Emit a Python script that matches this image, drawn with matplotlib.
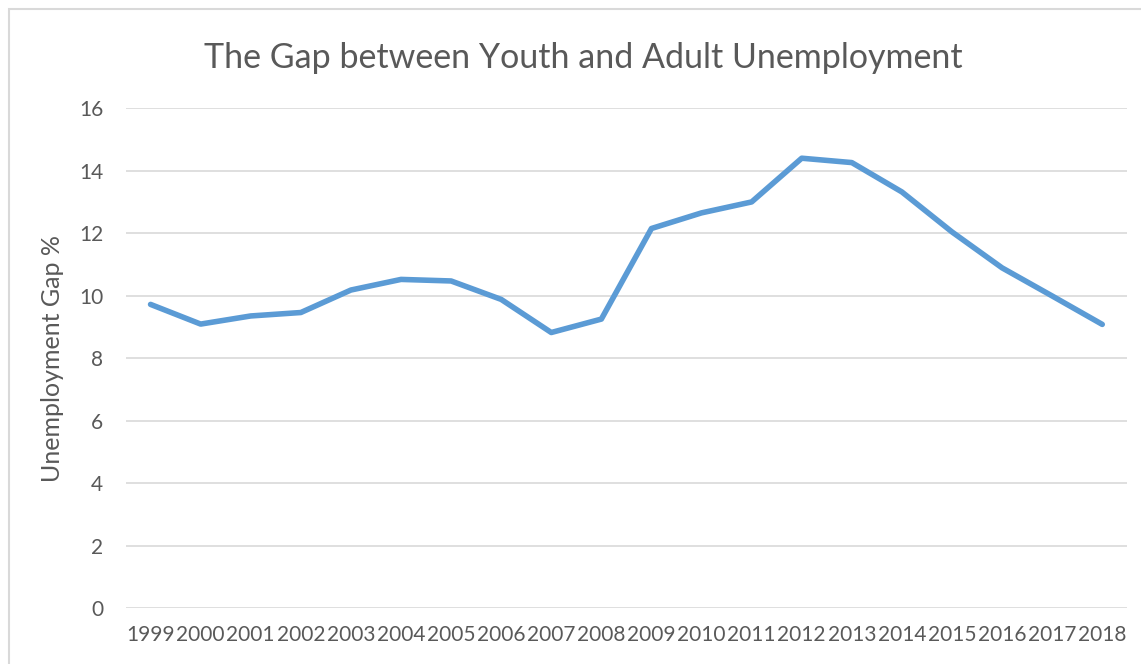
import matplotlib
matplotlib.use('Agg')
from matplotlib import pyplot as plt
from matplotlib.patches import Rectangle

years = ['1999', '2000', '2001', '2002', '2003', '2004', '2005', '2006', '2007', '2008',
         '2009', '2010', '2011', '2012', '2013', '2014', '2015', '2016', '2017', '2018']
gap = [9.72, 9.09, 9.35, 9.46, 10.18, 10.52, 10.47, 9.88, 8.82, 9.25,
       12.15, 12.65, 13.0, 14.4, 14.26, 13.32, 12.04, 10.89, 9.99, 9.08]
y_ticks = [0, 2, 4, 6, 8, 10, 12, 14, 16]

plt.rcParams['font.family'] = ['Lato', 'DejaVu Sans']
grey = '#595959'

fig = plt.figure(figsize=(11.41, 6.64), dpi=100)
fig.patches.append(Rectangle((9/1141, -0.1), 1.2, 1.1 - 9/664, transform=fig.transFigure,
                             fill=False, edgecolor='#D9D9D9', linewidth=1.5))
ax = fig.add_axes([0.110, 0.0843, 0.878, 0.7527])

ax.plot(range(len(years)), gap, color='#5B9BD5', linewidth=4, solid_capstyle='round',
        solid_joinstyle='round', zorder=3)

ax.set_xlim(-0.5, len(years) - 0.5)
ax.set_ylim(0, 16)
ax.set_yticks(y_ticks)
ax.set_xticks(range(len(years)))
ax.set_xticklabels(years)
ax.grid(axis='y', color='#D9D9D9', linewidth=1.2)
ax.set_axisbelow(True)
for s in ax.spines.values():
    s.set_visible(False)
ax.tick_params(length=0, labelsize=15, labelcolor=grey, pad=12)
ax.tick_params(axis='y', pad=16)

ax.set_ylabel('Unemployment Gap %', fontsize=18, color=grey, labelpad=26)
ax.yaxis.set_label_coords(-0.061, 0.5)
fig.text(0.511, 0.913, 'The Gap between Youth and Adult Unemployment', fontsize=24.5,
         color=grey, ha='center', va='center')

plt.savefig('out.png', dpi=100)
